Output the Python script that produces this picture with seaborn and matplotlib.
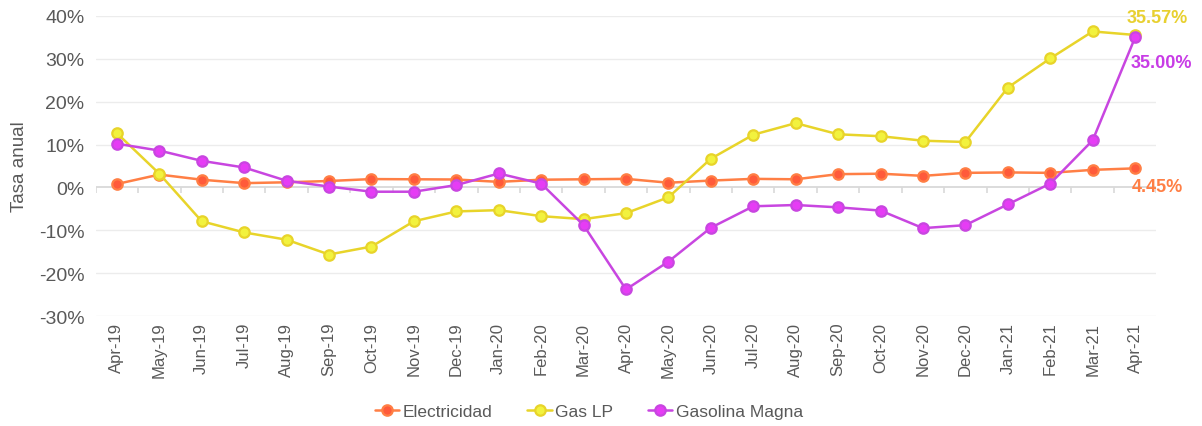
import numpy as np
import pandas as pd
import matplotlib
matplotlib.use("Agg")
import matplotlib.pyplot as plt
import seaborn as sns

months = ["Apr-19", "May-19", "Jun-19", "Jul-19", "Aug-19", "Sep-19", "Oct-19",
          "Nov-19", "Dec-19", "Jan-20", "Feb-20", "Mar-20", "Apr-20", "May-20",
          "Jun-20", "Jul-20", "Aug-20", "Sep-20", "Oct-20", "Nov-20", "Dec-20",
          "Jan-21", "Feb-21", "Mar-21", "Apr-21"]

electricidad = [0.8, 3.0, 1.8, 1.0, 1.2, 1.5, 1.95, 1.9, 1.85, 1.3, 1.8, 1.9, 2.0,
                1.1, 1.6, 2.0, 1.9, 3.1, 3.2, 2.7, 3.4, 3.5, 3.4, 4.1, 4.45]
gas_lp = [12.65, 3.2, -7.9, -10.5, -12.2, -15.65, -13.8, -7.9, -5.6, -5.3, -6.7,
          -7.4, -6.0, -2.3, 6.7, 12.3, 15.0, 12.4, 11.95, 10.9, 10.6, 23.3, 30.1,
          36.4, 35.57]
gasolina_magna = [10.2, 8.6, 6.2, 4.65, 1.55, 0.2, -1.0, -1.0, 0.55, 3.25, 0.9,
                  -8.8, -23.8, -17.3, -9.4, -4.4, -4.1, -4.65, -5.4, -9.5, -8.8,
                  -3.95, 0.9, 11.0, 35.0]

series_names = ["Electricidad", "Gas LP", "Gasolina Magna"]
line_colors = ["#FF7F45", "#E8D42A", "#C846E0"]
face_colors = ["#FF5A3A", "#F2F23E", "#E63CF5"]
label_colors = ["#FF7F45", "#E8D030", "#C83CE6"]
label_offsets = [(22, -18), (22, 17), (26, -25)]

sns.set_theme(style="white")
plt.rcParams["font.family"] = ["Liberation Sans", "DejaVu Sans"]

df = pd.DataFrame({"mes": months, "Electricidad": electricidad,
                   "Gas LP": gas_lp, "Gasolina Magna": gasolina_magna})
long = df.melt(id_vars="mes", var_name="serie", value_name="tasa")

fig = plt.figure(figsize=(12.02, 4.27), dpi=100)
ax = fig.add_axes([0.0796, 0.2576, 0.8824, 0.7026])

# grid + zero axis with category-boundary ticks
for v in range(-30, 41, 10):
    if v != 0:
        ax.axhline(v, color="#ECECEC", lw=1, zorder=0)
ax.axhline(0, color="#D9D9D9", lw=1.3, zorder=1)
ax.vlines(np.arange(len(months) + 1) - 0.5, -1.4, 0, color="#D9D9D9", lw=1.2, zorder=1)

for name, lc, fc in zip(series_names, line_colors, face_colors):
    sub = long[long["serie"] == name]
    sns.lineplot(data=sub, x="mes", y="tasa", ax=ax, color=lc, lw=1.8,
                 marker="o", markersize=7.5, markerfacecolor=fc,
                 markeredgecolor=lc, markeredgewidth=1.6, label=name,
                 sort=False, zorder=3)

for vals, col, off in zip([electricidad, gas_lp, gasolina_magna], label_colors, label_offsets):
    ax.annotate(f"{vals[-1]:.2f}%", xy=(len(months) - 1, vals[-1]), xytext=off,
                textcoords="offset pixels", ha="center", va="center",
                fontsize=13, fontweight="bold", color=col, annotation_clip=False)

ax.set_xlim(-0.5, len(months) - 0.5)
ax.set_ylim(-30, 40)
ax.set_yticks(range(-30, 41, 10))
ax.set_yticklabels([f"{v}%" for v in range(-30, 41, 10)], fontsize=14, color="#595959")
ax.set_xticks(range(len(months)))
ax.set_xticklabels(months, rotation=90, fontsize=12, color="#595959")
ax.tick_params(axis="x", length=0, pad=4)
ax.tick_params(axis="y", length=0, pad=8)
ax.set_xlabel("")
ax.set_ylabel("Tasa anual", fontsize=13.5, color="#595959", labelpad=8)
for s in ax.spines.values():
    s.set_visible(False)

ax.legend_.remove()
handles, labels = ax.get_legend_handles_labels()
fig.legend(handles, labels, loc="center", bbox_to_anchor=(0.49, 0.035), ncol=3,
           frameon=False, fontsize=12.5, labelcolor="#595959", handlelength=1.4,
           handletextpad=0.2, columnspacing=2.0)

fig.savefig("out.png", dpi=100)
